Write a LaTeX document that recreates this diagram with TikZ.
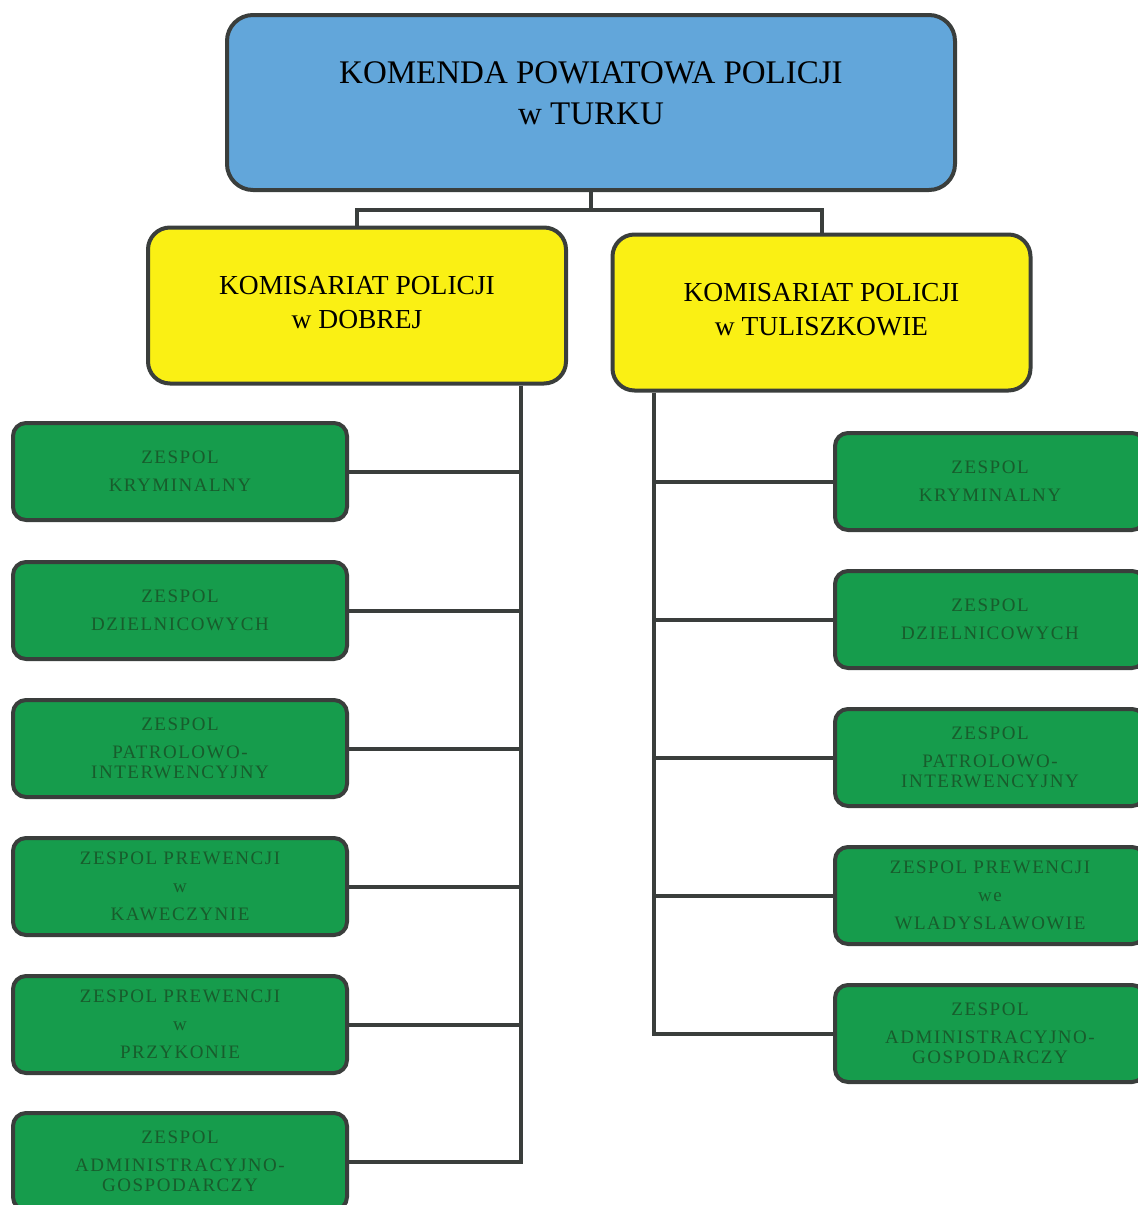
\documentclass[tikz,border=0pt]{standalone}
\usepackage{fontspec}
\setmainfont{Liberation Serif}
\newfontfamily\zespolfont[LetterSpace=8]{Liberation Serif}
\usetikzlibrary{positioning}

\definecolor{kpblue}{RGB}{98,166,218}
\definecolor{kpyellow}{RGB}{250,240,20}
\definecolor{kpgreen}{RGB}{22,156,76}
\definecolor{zgtext}{RGB}{24,92,44}
\definecolor{linegray}{RGB}{58,62,60}

\begin{document}
\begin{tikzpicture}[
                x=1pt,y=-1pt,
                box/.style={draw=linegray,line width=4pt,align=center},
                komenda/.style={box,fill=kpblue,rounded corners=26pt,minimum width=728pt,minimum height=175pt,font=\fontsize{33}{41}\selectfont},
                komisariat/.style={box,fill=kpyellow,rounded corners=22pt,minimum width=418pt,minimum height=156pt,font=\fontsize{27.5}{34}\selectfont},
                zespol/.style={box,fill=kpgreen,rounded corners=13pt,minimum width=334pt,minimum height=97pt,text=zgtext,font=\zespolfont\fontsize{19}{28}\selectfont},
                link/.style={draw=linegray,line width=4pt}
            ]
                \useasboundingbox (0,0) rectangle (1138,1205);

                \node[komenda]    (kpp)    at (591,102.5) {KOMENDA POWIATOWA POLICJI\\w TURKU\\[-23pt]};
                \node[komisariat] (kpdob)  at (357,305.5) {KOMISARIAT POLICJI\\w DOBREJ\\[-28pt]};
                \node[komisariat] (kptul)  at (821.5,312.5) {KOMISARIAT POLICJI\\w TULISZKOWIE\\[-28pt]};

                % Dobra
                \node[zespol] (zl1) at (180,471.5)  {ZESPOL\\KRYMINALNY};
                \node[zespol] (zl2) at (180,610.5)  {ZESPOL\\DZIELNICOWYCH};
                \node[zespol] (zl3) at (180,748.5)  {ZESPOL\\PATROLOWO-\\[-8pt]INTERWENCYJNY};
                \node[zespol] (zl4) at (180,886.5)  {ZESPOL PREWENCJI\\w\\KAWECZYNIE};
                \node[zespol] (zl5) at (180,1024.5) {ZESPOL PREWENCJI\\w\\PRZYKONIE};
                \node[zespol] (zl6) at (180,1161.5) {ZESPOL\\ADMINISTRACYJNO-\\[-8pt]GOSPODARCZY};

                % Tuliszkow
                \node[zespol,minimum width=310pt] (zr1) at (990,481.5) {ZESPOL\\KRYMINALNY};
                \node[zespol,minimum width=310pt] (zr2) at (990,619.5) {ZESPOL\\DZIELNICOWYCH};
                \node[zespol,minimum width=310pt] (zr3) at (990,757.5) {ZESPOL\\PATROLOWO-\\[-8pt]INTERWENCYJNY};
                \node[zespol,minimum width=310pt] (zr4) at (990,895.5) {ZESPOL PREWENCJI\\we\\WLADYSLAWOWIE};
                \node[zespol,minimum width=310pt] (zr5) at (990,1033.5) {ZESPOL\\ADMINISTRACYJNO-\\[-8pt]GOSPODARCZY};

                \coordinate (bus) at (591,210);
                \coordinate (ltrunk) at ([xshift=164pt]kpdob.south);
                \coordinate (rtrunk) at ([xshift=-167.5pt]kptul.south);

                \draw[link] (kpp.south) -- (kpp.south |- bus);
                \draw[link] (kpdob.north) |- (bus) -| (kptul.north);

                \draw[link] (ltrunk) |- (zl6.east);
                \foreach \i in {1,...,5}
                    \draw[link] (zl\i.east) -- (zl\i.east -| ltrunk);

                \draw[link] (rtrunk) |- (zr5.west);
                \foreach \i in {1,...,4}
                    \draw[link] (zr\i.west) -- (zr\i.west -| rtrunk);
            \end{tikzpicture}
\end{document}
